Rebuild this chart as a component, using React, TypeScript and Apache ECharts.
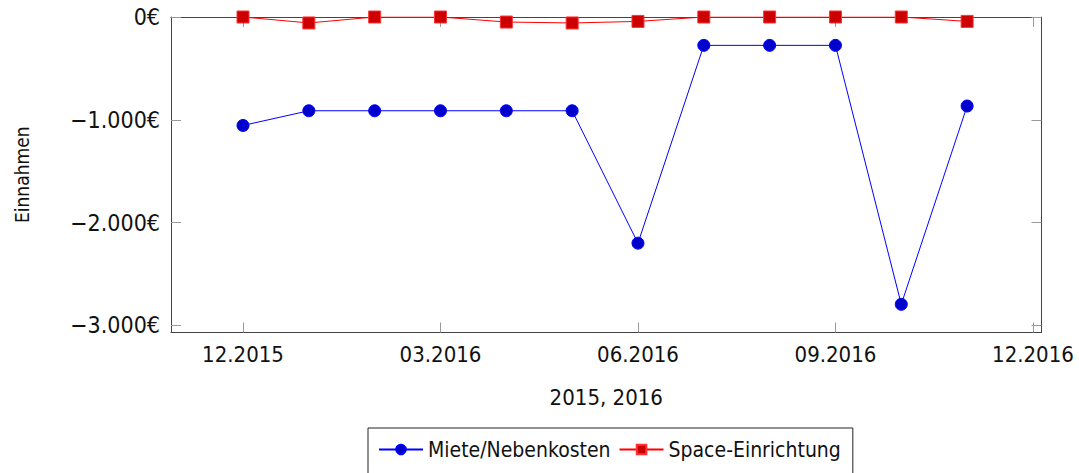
import React, { useEffect, useRef } from "react";
import * as echarts from "echarts";

const months = ["12.2015", "01.2016", "02.2016", "03.2016", "04.2016", "05.2016", "06.2016", "07.2016", "08.2016", "09.2016", "10.2016", "11.2016"];
const miete = [-1055, -912, -912, -912, -912, -912, -2200, -276, -276, -276, -2795, -866];
const space = [0, -58, 0, 0, -49, -58, -43, 0, 0, 0, 0, -43];
const xTickPositions = [0, 3, 6, 9, 12];
const xTickLabels = ["12.2015", "03.2016", "06.2016", "09.2016", "12.2016"];
const yTicks = [0, -1000, -2000, -3000];

const FONT = "'DejaVu Sans Condensed', 'DejaVu Sans', sans-serif";

function fmtEuro(v: number): string {
  const abs = Math.abs(v);
  const s = abs >= 1000 ? Math.floor(abs / 1000) + "." + String(abs % 1000).padStart(3, "0") : String(abs);
  return (v < 0 ? "\u2212" : "") + s + "€";
}

export default function App() {
  const ref = useRef<HTMLDivElement>(null);
  useEffect(() => {
    if (!ref.current) return;
    const chart = echarts.init(ref.current, undefined, { renderer: "svg" });
    const tickStyle = { show: true, inside: true, length: 10, lineStyle: { color: "#999", width: 1 } };
    const axisLineStyle = { show: true, onZero: false, lineStyle: { color: "#444", width: 1 } };
    const xCommon = {
      type: "value" as const,
      min: -1.094,
      max: 12.13,
      splitLine: { show: false },
      axisLine: axisLineStyle,
      axisTick: { ...tickStyle, customValues: xTickPositions },
    };
    const yCommon = {
      type: "value" as const,
      min: -3069,
      max: 0,
      splitLine: { show: false },
      axisLine: axisLineStyle,
      axisTick: { ...tickStyle, customValues: yTicks },
    };
    chart.setOption({
      animation: false,
      textStyle: { fontFamily: FONT },
      grid: { left: 171, right: 37.5, top: 17, bottom: 140.5, containLabel: false },
      legend: {
        left: 368,
        top: 428,
        orient: "horizontal",
        borderColor: "#222",
        borderWidth: 1,
        borderRadius: 0,
        padding: [11, 12, 14, 10],
        itemGap: 8,
        itemWidth: 44,
        itemHeight: 12,
        textStyle: { fontSize: 21, color: "#111", fontFamily: FONT },
        data: ["Miete/Nebenkosten", "Space-Einrichtung"],
      },
      xAxis: [
        {
          ...xCommon,
          position: "bottom",
          name: "2015, 2016",
          nameLocation: "middle",
          nameGap: 54,
          nameTextStyle: { fontSize: 22, color: "#111", fontFamily: FONT },
          axisLabel: {
            show: true,
            customValues: xTickPositions,
            fontSize: 22,
            color: "#111",
            margin: 11,
            fontFamily: FONT,
            formatter: (v: number) => xTickLabels[xTickPositions.indexOf(Math.round(v))] ?? "",
          },
        },
        { ...xCommon, position: "top", axisLabel: { show: false } },
      ],
      yAxis: [
        {
          ...yCommon,
          position: "left",
          name: "Einnahmen",
          nameLocation: "middle",
          nameGap: 140,
          nameRotate: 90,
          nameTextStyle: { fontSize: 19, color: "#111", fontFamily: FONT },
          axisLabel: {
            show: true,
            customValues: yTicks,
            fontSize: 23,
            color: "#111",
            margin: 11,
            fontFamily: FONT,
            formatter: (v: number) => fmtEuro(v),
          },
        },
        { ...yCommon, position: "right", axisLabel: { show: false } },
      ],
      series: [
        {
          name: "Miete/Nebenkosten",
          type: "line",
          xAxisIndex: 0,
          yAxisIndex: 0,
          data: miete.map((v, i) => [i, v]),
          symbol: "circle",
          symbolSize: 12,
          lineStyle: { color: "#0000ff", width: 1 },
          itemStyle: { color: "#0000cc", borderColor: "#0000ff", borderWidth: 1 },
          z: 3,
        },
        {
          name: "Space-Einrichtung",
          type: "line",
          xAxisIndex: 0,
          yAxisIndex: 0,
          data: space.map((v, i) => [i, v]),
          symbol: "rect",
          symbolSize: 12,
          lineStyle: { color: "#ff0000", width: 1 },
          itemStyle: { color: "#cc0000", borderColor: "#ff3333", borderWidth: 1 },
          z: 4,
        },
      ],
    });
    return () => chart.dispose();
  }, []);
  return <div ref={ref} style={{ width: 1079, height: 473, position: "absolute", left: 0, top: 0 }} />;
}
